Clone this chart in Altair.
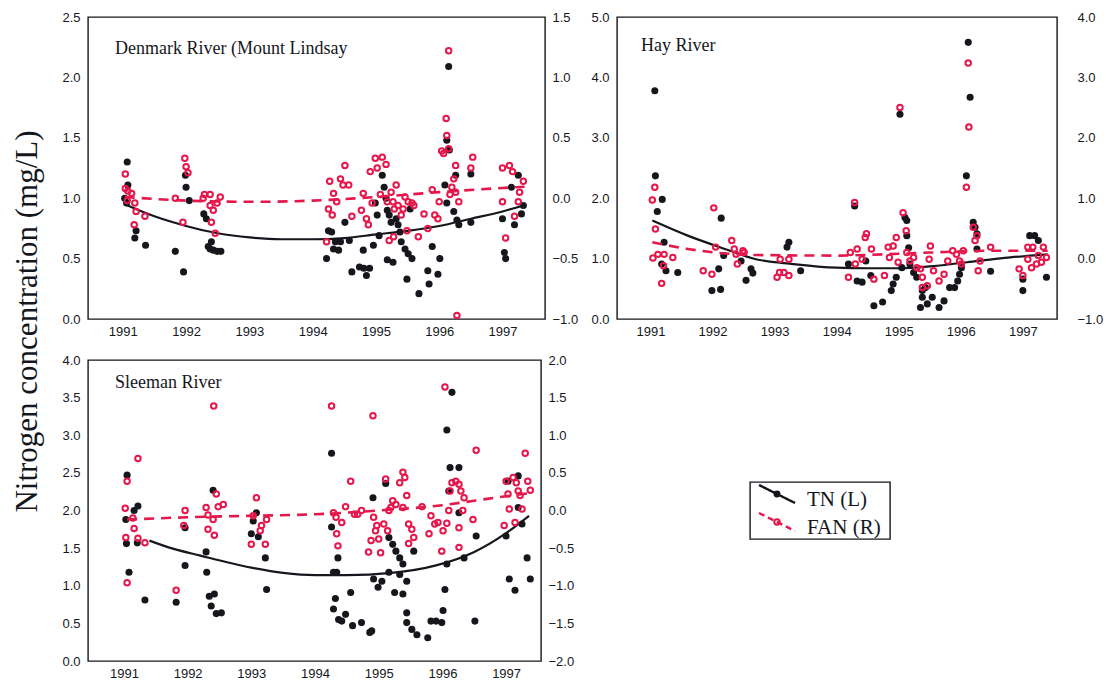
import altair as alt
import pandas as pd

SANS = "Liberation Sans"
SERIF = "Liberation Serif"
INK = "#15171d"
RED = "#e5174b"

years_ticks = [1991, 1992, 1993, 1994, 1995, 1996, 1997]
panel_titles = ["Denmark River (Mount Lindsay", "Hay River", "Sleeman River"]
legend_labels = ["TN (L)", "FAN (R)"]
y_title = "Nitrogen concentration (mg/L)"

# ---------------- Denmark River (Mount Lindsay) ----------------
den_tn = [
    (1991.07, 1.30), (1991.08, 1.11), (1991.03, 1.00), (1991.06, 0.96), (1991.21, 0.73), (1991.19, 0.67),
    (1991.36, 0.61), (1991.83, 0.56), (1991.96, 0.39), (1991.99, 1.19), (1992.00, 1.09), (1992.05, 0.98),
    (1992.28, 0.87), (1992.32, 0.83), (1992.35, 0.60), (1992.38, 0.58), (1992.43, 0.57), (1992.49, 0.56),
    (1992.55, 0.56), (1992.40, 0.64), (1994.22, 0.50), (1994.25, 0.73), (1994.30, 0.72), (1994.33, 0.58),
    (1994.41, 0.57), (1994.36, 0.64), (1994.44, 0.64), (1994.51, 0.80), (1994.58, 0.65), (1994.62, 0.39),
    (1994.74, 0.43), (1994.81, 0.42), (1994.85, 0.36), (1994.90, 0.42), (1994.80, 0.57), (1994.96, 0.61),
    (1995.05, 0.69), (1994.99, 0.96), (1995.02, 0.86), (1995.10, 1.19), (1995.13, 1.09), (1995.16, 1.00),
    (1995.18, 0.90), (1995.21, 0.86), (1995.24, 0.80), (1995.18, 0.49), (1995.27, 0.47), (1995.32, 0.83),
    (1995.35, 0.78), (1995.38, 0.72), (1995.40, 0.64), (1995.46, 0.58), (1995.51, 0.54), (1995.57, 0.50),
    (1995.49, 0.33), (1995.54, 0.91), (1995.68, 0.21), (1995.82, 0.40), (1995.84, 0.29), (1995.89, 0.60),
    (1995.98, 0.37), (1996.01, 0.50), (1996.09, 1.11), (1996.12, 1.48), (1996.15, 2.09), (1996.16, 1.40),
    (1996.12, 0.96), (1996.23, 0.89), (1996.28, 0.82), (1996.31, 0.78), (1996.26, 1.19), (1996.50, 1.20),
    (1996.50, 0.80), (1997.00, 0.83), (1997.03, 0.55), (1997.05, 0.50), (1997.14, 1.09), (1997.19, 0.78),
    (1997.25, 1.19), (1997.30, 0.87), (1997.33, 0.94),
]
den_fan = [
    (1991.04, 0.20), (1991.04, 0.08), (1991.08, 0.06), (1991.14, 0.04), (1991.07, -0.02), (1991.19, -0.04),
    (1991.21, -0.11), (1991.18, -0.22), (1991.35, -0.15), (1991.98, 0.33), (1992.00, 0.26), (1992.03, 0.21),
    (1991.83, 0.00), (1991.95, -0.20), (1992.27, 0.00), (1992.29, 0.03), (1992.38, 0.03), (1992.54, 0.01),
    (1992.38, -0.06), (1992.43, -0.10), (1992.40, -0.20), (1992.46, -0.29), (1992.49, -0.04),
    (1994.22, -0.36), (1994.25, -0.09), (1994.27, 0.14), (1994.31, -0.14), (1994.33, 0.04), (1994.38, -0.03),
    (1994.44, 0.16), (1994.48, 0.11), (1994.57, 0.11), (1994.51, 0.27), (1994.62, -0.15), (1994.77, -0.10),
    (1994.80, 0.04), (1994.85, -0.17), (1994.88, -0.22), (1994.94, -0.04), (1994.91, 0.22), (1994.99, 0.33),
    (1995.02, 0.25), (1995.10, 0.34), (1995.16, 0.28), (1995.07, 0.03), (1995.18, -0.03), (1995.21, -0.35),
    (1995.28, -0.32), (1995.24, 0.05), (1995.27, -0.03), (1995.29, -0.09), (1995.32, 0.11), (1995.35, -0.06),
    (1995.40, -0.14), (1995.43, -0.09), (1995.46, 0.01), (1995.51, -0.03), (1995.57, -0.04), (1995.60, -0.06),
    (1995.49, -0.27), (1995.67, -0.32), (1995.82, -0.25), (1995.89, 0.07), (1995.76, -0.13), (1995.93, -0.14),
    (1995.98, -0.17), (1996.00, -0.03), (1996.04, 0.39), (1996.07, 0.37), (1996.11, 0.66), (1996.12, 0.52),
    (1996.15, 0.41), (1996.15, 1.22), (1996.20, 0.09), (1996.26, 0.05), (1996.17, 0.03), (1996.31, -0.03),
    (1996.26, 0.27), (1996.23, 0.16), (1996.28, -0.97), (1996.53, 0.34), (1996.50, 0.25), (1997.00, 0.25),
    (1997.00, -0.03), (1997.05, -0.33), (1997.11, 0.27), (1997.16, 0.22), (1997.19, -0.15), (1997.25, -0.03),
    (1997.27, 0.05), (1997.33, 0.14),
]
den_tn_fit = [
    (1991.03, 0.95), (1991.5, 0.85), (1992.0, 0.77), (1992.5, 0.71), (1993.0, 0.675), (1993.5, 0.66),
    (1994.0, 0.66), (1994.5, 0.67), (1995.0, 0.70), (1995.5, 0.73), (1996.0, 0.77), (1996.5, 0.83),
    (1997.0, 0.89), (1997.33, 0.94),
]
den_fan_fit = [
    (1991.03, 0.01), (1992.0, -0.02), (1993.0, -0.03), (1994.0, -0.02), (1995.0, 0.01), (1996.0, 0.05),
    (1997.0, 0.085), (1997.35, 0.095),
]

# ---------------- Hay River ----------------
hay_tn = [
    (1991.07, 3.78), (1991.08, 2.37), (1991.19, 1.98), (1991.11, 1.78), (1991.22, 1.27), (1991.25, 0.80),
    (1991.18, 0.91), (1991.44, 0.77), (1991.99, 0.47), (1992.13, 0.49), (1992.14, 1.67), (1992.18, 1.05),
    (1992.10, 0.83), (1992.46, 0.96), (1992.62, 0.83), (1992.65, 0.76), (1992.54, 0.64), (1993.23, 1.27),
    (1993.20, 1.19), (1993.42, 0.80), (1994.29, 1.87), (1994.19, 0.91), (1994.33, 0.63), (1994.41, 0.61),
    (1994.47, 0.96), (1994.55, 0.72), (1994.60, 0.22), (1994.74, 0.28), (1994.88, 0.47), (1994.91, 0.58),
    (1994.96, 0.69), (1995.05, 0.85), (1995.02, 3.39), (1995.10, 1.68), (1995.13, 1.63), (1995.13, 1.38),
    (1995.16, 1.18), (1995.18, 0.91), (1995.24, 0.77), (1995.29, 0.69), (1995.38, 0.47), (1995.38, 0.36),
    (1995.43, 0.52), (1995.46, 0.25), (1995.35, 0.19), (1995.54, 0.36), (1995.65, 0.19), (1995.73, 0.30),
    (1995.82, 0.52), (1995.90, 0.52), (1995.95, 0.63), (1995.98, 0.74), (1996.01, 0.85), (1996.09, 2.37),
    (1996.12, 4.58), (1996.15, 3.67), (1996.20, 1.60), (1996.23, 1.52), (1996.26, 1.41), (1996.26, 1.16),
    (1996.48, 0.79), (1997.00, 0.66), (1997.00, 0.47), (1997.11, 1.38), (1997.19, 1.38), (1997.25, 1.30),
    (1997.38, 0.69),
]
hay_fan = [
    (1991.03, 0.97), (1991.07, 1.18), (1991.08, 0.49), (1991.04, 0.01), (1991.12, 0.07), (1991.22, 0.07),
    (1991.21, -0.12), (1991.18, -0.41), (1991.36, 0.02), (1992.02, 0.84), (1991.85, -0.20), (1991.99, -0.26),
    (1992.05, 0.19), (1992.31, 0.30), (1992.35, 0.16), (1992.38, 0.07), (1992.40, -0.09), (1992.49, 0.13),
    (1992.51, 0.10), (1993.04, -0.31), (1993.08, -0.23), (1993.09, -0.01), (1993.23, -0.01), (1993.23, -0.28),
    (1993.15, -0.23), (1994.19, -0.31), (1994.22, 0.10), (1994.29, 0.93), (1994.33, 0.16), (1994.30, -0.09),
    (1994.41, -0.01), (1994.46, 0.35), (1994.48, 0.41), (1994.56, 0.16), (1994.60, -0.34), (1994.77, -0.28),
    (1994.83, 0.19), (1994.91, 0.21), (1994.85, 0.02), (1994.96, 0.35), (1994.99, -0.06), (1995.02, 2.50),
    (1995.07, 0.76), (1995.12, 0.46), (1995.13, 0.10), (1995.18, -0.04), (1995.24, 0.02), (1995.29, -0.15),
    (1995.35, -0.17), (1995.38, -0.31), (1995.38, -0.48), (1995.46, -0.45), (1995.51, 0.21), (1995.49, -0.01),
    (1995.56, -0.20), (1995.65, -0.37), (1995.73, -0.26), (1995.79, -0.04), (1995.87, 0.13), (1995.93, 0.07),
    (1995.98, -0.04), (1996.04, 0.13), (1996.01, -0.09), (1996.09, 1.18), (1996.13, 2.18), (1996.12, 3.24),
    (1996.20, 0.52), (1996.26, 0.38), (1996.23, 0.30), (1996.31, -0.04), (1996.28, -0.20), (1996.48, 0.19),
    (1996.94, -0.17), (1997.00, -0.28), (1997.08, 0.19), (1997.08, -0.01), (1997.14, -0.15), (1997.16, 0.19),
    (1997.22, -0.09), (1997.25, 0.05), (1997.30, -0.06), (1997.33, 0.19), (1997.38, 0.02),
]
hay_tn_fit = [
    (1991.03, 1.63), (1991.6, 1.38), (1992.2, 1.16), (1992.7, 0.99), (1993.3, 0.91), (1994.0, 0.85),
    (1994.5, 0.84), (1995.0, 0.84), (1995.5, 0.87), (1996.1, 0.94), (1996.8, 1.02), (1997.4, 1.07),
]
hay_fan_fit = [
    (1991.03, 0.27), (1991.6, 0.16), (1992.7, 0.06), (1994.0, 0.05), (1995.0, 0.08), (1995.5, 0.10),
    (1996.5, 0.13), (1997.4, 0.13),
]

# ---------------- Sleeman River ----------------
sle_tn = [
    (1991.05, 2.47), (1991.03, 1.88), (1991.04, 1.56), (1991.08, 1.18), (1991.16, 2.00), (1991.22, 2.06),
    (1991.21, 1.57), (1991.33, 0.81), (1991.82, 0.78), (1991.96, 1.27), (1991.96, 1.77), (1992.29, 1.45),
    (1992.30, 1.18), (1992.34, 0.86), (1992.37, 0.73), (1992.42, 0.89), (1992.45, 0.63), (1992.53, 0.64),
    (1992.40, 2.27), (1993.03, 1.86), (1993.08, 1.97), (1993.00, 1.69), (1993.11, 1.65), (1993.22, 1.37),
    (1993.24, 0.95), (1994.26, 2.76), (1994.26, 1.78), (1994.29, 1.18), (1994.34, 1.18), (1994.36, 1.37),
    (1994.29, 0.69), (1994.32, 0.83), (1994.37, 0.55), (1994.42, 0.53), (1994.48, 0.62), (1994.56, 0.91),
    (1994.59, 0.47), (1994.73, 0.51), (1994.86, 0.38), (1994.89, 0.40), (1994.91, 2.17), (1994.92, 1.09),
    (1994.99, 0.98), (1995.05, 1.06), (1995.16, 1.18), (1995.11, 2.36), (1995.16, 1.64), (1995.22, 1.55),
    (1995.27, 1.46), (1995.33, 1.37), (1995.38, 1.29), (1995.33, 1.15), (1995.44, 1.06), (1995.25, 0.91),
    (1995.38, 0.89), (1995.44, 0.64), (1995.44, 0.51), (1995.52, 0.42), (1995.60, 0.35), (1995.55, 1.46),
    (1995.77, 0.31), (1995.82, 0.53), (1995.90, 0.53), (1995.99, 0.51), (1996.01, 0.67), (1996.04, 0.95),
    (1996.07, 3.07), (1996.07, 1.29), (1996.15, 3.57), (1996.12, 2.57), (1996.26, 2.57), (1996.10, 2.26),
    (1996.26, 1.97), (1996.34, 1.37), (1996.51, 0.53), (1996.53, 1.66), (1997.00, 1.66), (1997.03, 2.39),
    (1997.05, 1.09), (1997.14, 0.94), (1997.19, 2.46), (1997.19, 2.04), (1997.25, 1.82), (1997.33, 1.37),
    (1997.38, 1.09),
]
sle_fan = [
    (1991.05, 0.39), (1991.02, 0.03), (1991.03, -0.36), (1991.05, -0.96), (1991.14, -0.10), (1991.16, -0.24),
    (1991.22, -0.37), (1991.33, -0.43), (1991.22, 0.69), (1991.82, -1.06), (1991.96, 0.00), (1991.94, -0.20),
    (1992.41, 1.39), (1992.29, 0.04), (1992.32, -0.06), (1992.32, -0.25), (1992.42, -0.33), (1992.45, 0.22),
    (1992.48, 0.05), (1992.56, 0.08), (1992.40, -0.12), (1993.08, 0.17), (1993.00, -0.45), (1993.03, -0.07),
    (1993.14, -0.27), (1993.16, -0.20), (1993.22, -0.45), (1993.24, -0.12), (1994.26, 1.39), (1994.29, -0.03),
    (1994.33, -0.09), (1994.34, -0.31), (1994.36, -0.47), (1994.42, -0.16), (1994.48, 0.05), (1994.56, 0.39),
    (1994.62, -0.05), (1994.67, -0.05), (1994.73, 0.00), (1994.84, -0.55), (1994.88, -0.40), (1994.91, 1.26),
    (1994.92, -0.09), (1994.95, -0.27), (1994.97, -0.20), (1995.00, -0.38), (1995.03, -0.56), (1995.08, -0.18),
    (1995.11, 0.42), (1995.14, -0.27), (1995.16, 0.00), (1995.19, 0.04), (1995.22, 0.13), (1995.27, 0.08),
    (1995.33, 0.37), (1995.38, 0.51), (1995.41, 0.44), (1995.38, 0.04), (1995.44, 0.20), (1995.47, -0.18),
    (1995.52, -0.25), (1995.55, -0.36), (1995.47, -0.44), (1995.68, 0.05), (1995.79, -0.31), (1995.82, -0.07),
    (1995.88, -0.18), (1995.93, -0.16), (1995.99, -0.54), (1996.01, -0.27), (1996.04, 1.64), (1996.07, -0.17),
    (1996.10, 0.00), (1996.12, 0.26), (1996.15, 0.37), (1996.21, 0.39), (1996.26, 0.35), (1996.29, 0.26),
    (1996.32, 0.00), (1996.26, -0.23), (1996.26, -0.49), (1996.34, 0.17), (1996.48, -0.12), (1996.53, 0.80),
    (1996.97, -0.20), (1997.00, 0.39), (1997.03, 0.22), (1997.05, 0.02), (1997.11, 0.44), (1997.14, -0.16),
    (1997.16, 0.37), (1997.19, 0.26), (1997.22, 0.20), (1997.25, 0.02), (1997.30, 0.76), (1997.34, 0.39),
    (1997.38, 0.27),
]
sle_tn_fit = [
    (1991.4, 1.60), (1991.7, 1.51), (1992.2, 1.40), (1993.0, 1.24), (1993.5, 1.17), (1994.0, 1.14),
    (1994.5, 1.14), (1995.2, 1.17), (1995.9, 1.27), (1996.5, 1.45), (1997.0, 1.70), (1997.36, 1.93),
]
sle_fan_fit = [
    (1991.05, -0.12), (1992.0, -0.09), (1993.0, -0.07), (1994.0, -0.05), (1995.0, 0.00), (1996.0, 0.07),
    (1996.5, 0.13), (1997.0, 0.19), (1997.36, 0.23),
]


def frame(pairs):
    return pd.DataFrame(pairs, columns=["year", "value"])


def panel(title, title_pos, tn, fan, tn_fit, fan_fit, xdom, ldom, lvals, rdom, rvals, w, h, rpad):
    x = alt.X("year:Q", scale=alt.Scale(domain=xdom, nice=False, zero=False),
              axis=alt.Axis(values=years_ticks, format="d", title=None, labelPadding=6,
                            labelFlush=False, labelOverlap=False))
    yl = alt.Y("value:Q", scale=alt.Scale(domain=ldom, nice=False, zero=False),
               axis=alt.Axis(values=lvals, format=".1f", orient="left", title=None, labelPadding=8))
    yr = alt.Y("value:Q", scale=alt.Scale(domain=rdom, nice=False, zero=False),
               axis=alt.Axis(values=rvals, format=".1f", orient="right", title=None, labelPadding=rpad))

    tn_pts = alt.Chart(frame(tn)).mark_point(shape="circle", filled=True, size=50, color=INK,
                                              opacity=1).encode(x=x, y=yl)
    tn_line = alt.Chart(frame(tn_fit)).mark_line(color=INK, strokeWidth=2.2,
                                                 interpolate="monotone").encode(x=x, y=yl)
    fan_pts = alt.Chart(frame(fan)).mark_point(shape="circle", filled=False, size=30, color=RED,
                                               strokeWidth=2, opacity=1).encode(x=x, y=yr)
    fan_line = alt.Chart(frame(fan_fit)).mark_line(color=RED, strokeWidth=2.6, strokeDash=[10, 7],
                                                   interpolate="monotone").encode(x=x, y=yr)
    label = alt.Chart(pd.DataFrame({"t": [title]})).mark_text(
        align="left", baseline="alphabetic", font=SERIF, fontSize=18, color=INK
    ).encode(x=alt.value(title_pos[0]), y=alt.value(title_pos[1]), text="t:N")

    left = alt.layer(tn_pts, tn_line)
    right = alt.layer(fan_pts, fan_line)
    return alt.layer(left, right, label).resolve_scale(y="independent").properties(width=w, height=h)


p1 = panel(panel_titles[0], (27, 37), den_tn, den_fan, den_tn_fit, den_fan_fit,
           [1990.45, 1997.672], [0, 2.5], [0, 0.5, 1.0, 1.5, 2.0, 2.5],
           [-1, 1.5], [-1.0, -0.5, 0.0, 0.5, 1.0, 1.5], 457, 302, 7)
p2 = panel(panel_titles[1], (24, 34), hay_tn, hay_fan, hay_tn_fit, hay_fan_fit,
           [1990.461, 1997.55], [0, 5], [0, 1, 2, 3, 4, 5],
           [-1, 4], [-1, 0, 1, 2, 3, 4], 440, 302, 20)
p3 = panel(panel_titles[2], (27, 28), sle_tn, sle_fan, sle_tn_fit, sle_fan_fit,
           [1990.436, 1997.548], [0, 4], [0, 0.5, 1, 1.5, 2, 2.5, 3, 3.5, 4],
           [-2, 2], [-2, -1.5, -1, -0.5, 0, 0.5, 1, 1.5, 2], 453, 301, 7)

# ---------------- legend panel ----------------
leg_df = pd.DataFrame({"label": legend_labels, "idx": list(range(len(legend_labels)))})
ly = alt.Scale(domain=[0, 57], range=[0, 57])


def leg_rows(i, color, dash, filled):
    base = alt.Chart(leg_df).transform_filter(f"datum.idx == {i}").transform_calculate(
        y0="3 + 28*datum.idx", y1="21 + 28*datum.idx", ym="12 + 28*datum.idx", yt="24 + 28*datum.idx")
    rule = base.mark_rule(color=color, strokeWidth=2.4, strokeDash=dash).encode(
        x=alt.value(9), x2=alt.value(45), y=alt.Y("y0:Q", scale=ly, axis=None), y2="y1:Q")
    dot = base.mark_point(shape="circle", filled=filled, size=48 if filled else 30, color=color,
                          strokeWidth=2, opacity=1).encode(
        x=alt.value(27), y=alt.Y("ym:Q", scale=ly, axis=None))
    txt = base.mark_text(align="left", baseline="alphabetic", font=SERIF, fontSize=21, color=INK).encode(
        x=alt.value(57), y=alt.Y("yt:Q", scale=ly, axis=None), text="label:N")
    return [rule, dot, txt]


legend = alt.layer(*(leg_rows(0, INK, [1, 0], True) + leg_rows(1, RED, [6, 4], False))).properties(
    width=140, height=57)

row1 = alt.hconcat(p1, p2, spacing=72, bounds="flush")
row2 = alt.hconcat(p3, legend, spacing=209, bounds="flush", center=True)
chart = alt.vconcat(row1, row2, spacing=14).properties(
    title=alt.TitleParams(y_title, orient="left", anchor="middle", font=SERIF, fontSize=31,
                          fontWeight="normal", color=INK, offset=17, dx=24),
    padding={"left": 12, "top": 10, "right": 5, "bottom": 5},
    background="white",
).configure_axis(
    labelFont=SANS, labelFontSize=13, labelColor=INK, grid=False, ticks=False, domain=False,
).configure_view(stroke=INK, strokeWidth=1.4)

chart.save("out.html", embed_options={"renderer": "svg", "actions": False})
